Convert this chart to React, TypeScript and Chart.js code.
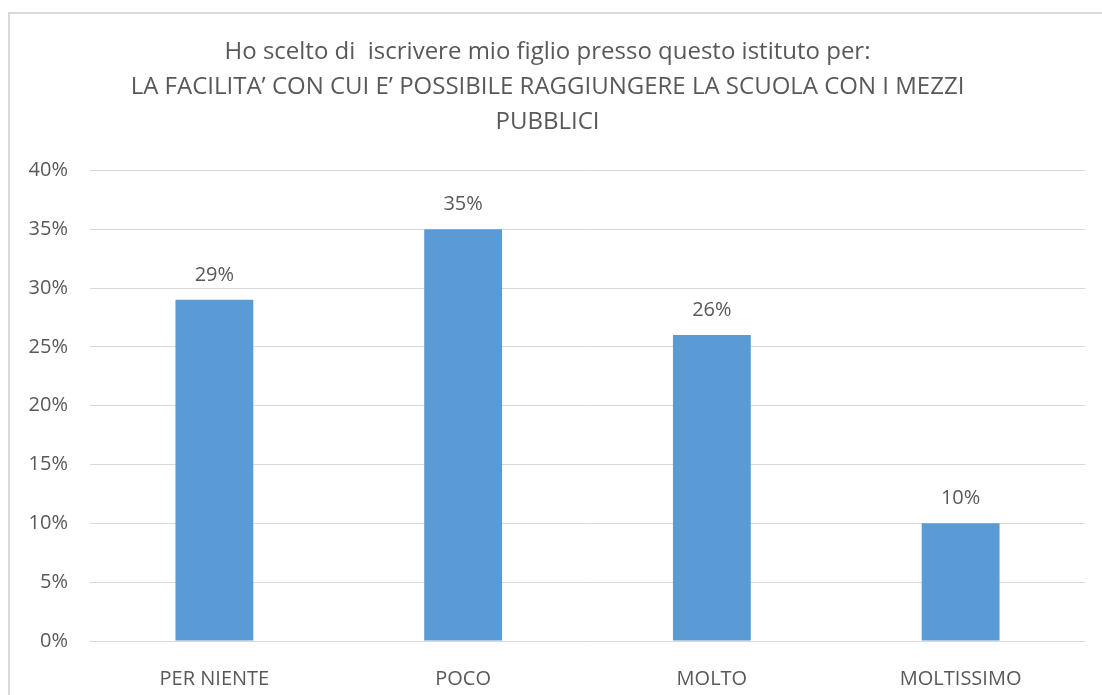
import React, { useEffect, useRef } from "react";
import { Chart, registerables } from "chart.js";

Chart.register(...registerables);

const categories = ["PER NIENTE", "POCO", "MOLTO", "MOLTISSIMO"];
const values = [29, 35, 26, 10];
const titleLines = [
  "Ho scelto di  iscrivere mio figlio presso questo istituto per:",
  "LA FACILITA’ CON CUI E’ POSSIBILE RAGGIUNGERE LA SCUOLA CON I MEZZI",
  "PUBBLICI",
];

const FONT = "'Open Sans', 'Liberation Sans', sans-serif";
const TEXT = "#595959";

const dataLabels = {
  id: "dataLabels",
  afterDatasetsDraw(chart: any) {
    const ctx = chart.ctx;
    const meta = chart.getDatasetMeta(0);
    ctx.save();
    ctx.font = `20px ${FONT}`;
    ctx.fillStyle = TEXT;
    ctx.textAlign = "center";
    ctx.textBaseline = "middle";
    meta.data.forEach((bar: any, i: number) => {
      ctx.fillText(values[i] + "%", bar.x, bar.y - 25);
    });
    ctx.restore();
  },
};

export default function App() {
  const ref = useRef<HTMLCanvasElement>(null);
  useEffect(() => {
    if (!ref.current) return;
    const chart = new Chart(ref.current, {
      type: "bar",
      data: {
        labels: categories,
        datasets: [
          {
            data: values,
            backgroundColor: "#5b9bd5",
            borderWidth: 0,
            categoryPercentage: 1,
            barPercentage: 0.313,
          },
        ],
      },
      options: {
        animation: false,
        responsive: false,
        layout: { padding: { top: 35, left: 10, right: 17, bottom: 0 } },
        plugins: {
          legend: { display: false },
          tooltip: { enabled: false },
          title: {
            display: true,
            text: titleLines,
            color: TEXT,
            font: { family: FONT, size: 24, weight: "normal", lineHeight: 1.45 },
            padding: { top: 0, bottom: 31 },
          },
        },
        scales: {
          x: {
            grid: { display: false },
            border: { display: false },
            ticks: { color: TEXT, font: { family: FONT, size: 20 }, padding: 18 },
            afterFit: (s: any) => {
              s.height = 54;
            },
          },
          y: {
            min: 0,
            max: 40,
            grid: { color: "#d9d9d9", lineWidth: 1, drawTicks: false },
            border: { display: false },
            ticks: {
              stepSize: 5,
              color: TEXT,
              font: { family: FONT, size: 20 },
              padding: 22,
              callback: (v: any) => v + "%",
            },
            afterFit: (s: any) => {
              s.width = 80;
            },
          },
        },
      },
      plugins: [dataLabels],
    });
    return () => chart.destroy();
  }, []);

  return (
    <div
      style={{
        position: "fixed",
        left: 0,
        top: 0,
        width: 1102,
        height: 695,
        overflow: "hidden",
        background: "#fff",
      }}
    >
      <div
        style={{
          position: "absolute",
          left: 8,
          top: 12,
          width: 1110,
          height: 710,
          border: "2px solid #d9d9d9",
        }}
      />
      <canvas
        ref={ref}
        width={1102}
        height={695}
        style={{ position: "absolute", left: 0, top: 0 }}
      />
    </div>
  );
}
